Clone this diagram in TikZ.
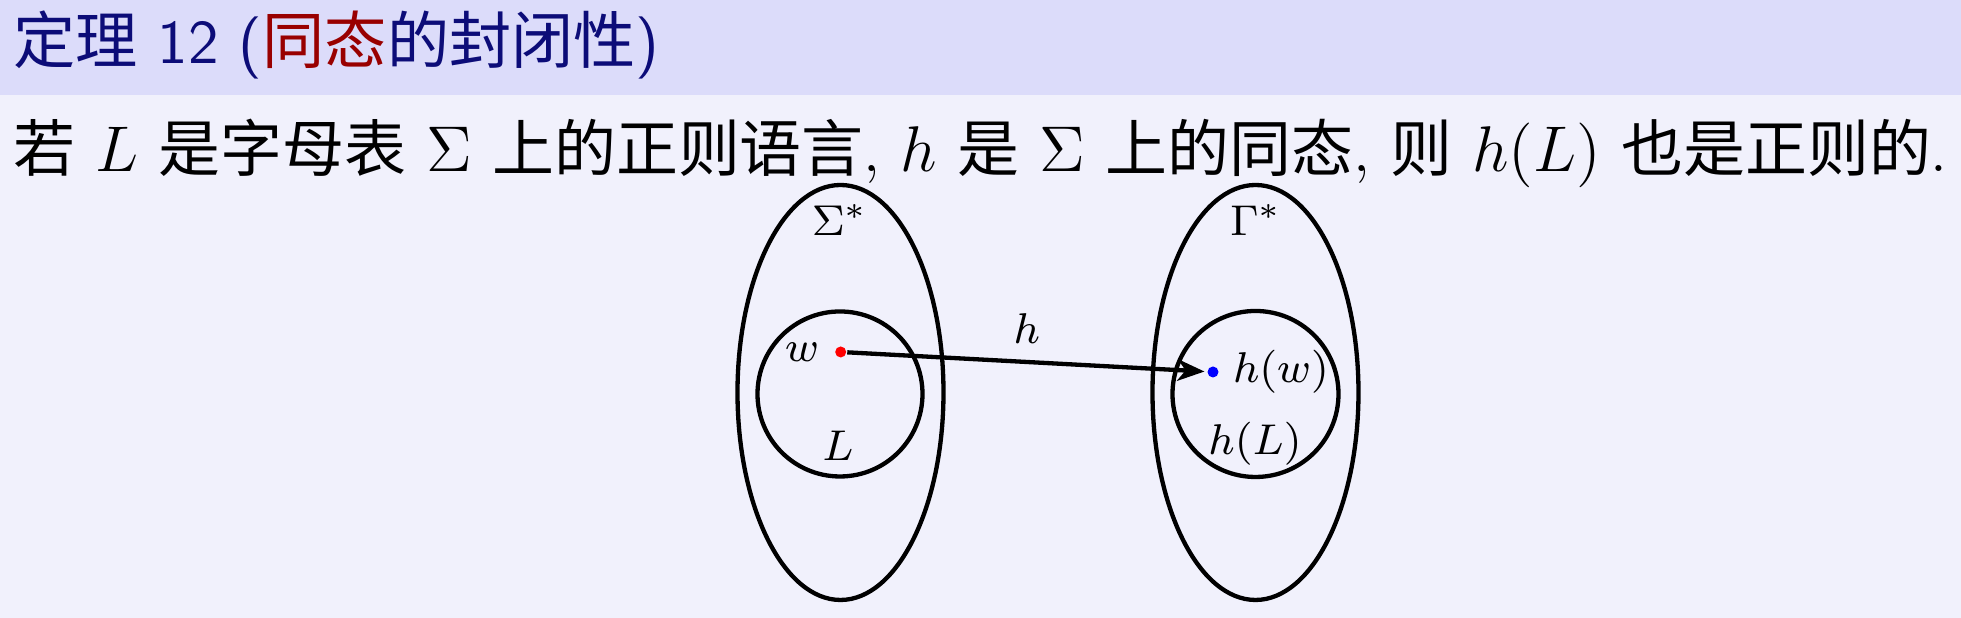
\documentclass[tikz,border=0pt]{standalone}
\usepackage{fontspec}
\newfontfamily\cjk{Noto Sans CJK SC}
\usetikzlibrary{arrows.meta,shapes.geometric}
\definecolor{hdrbg}{RGB}{220,220,250}
\definecolor{bodybg}{RGB}{241,241,252}
\definecolor{navy}{RGB}{12,12,120}
\definecolor{alertred}{RGB}{153,0,0}
\def\u{0.18569pt}
\begin{document}
\begin{tikzpicture}[x=0.18569pt,y=-0.18569pt,
  setline/.style={draw=black, line width=0.8pt, inner sep=0pt},
  lbl/.style={font=\fontsize{8}{10}\selectfont, inner sep=0pt},
  dot/.style={circle, inner sep=0pt, minimum size=11*\u}]
\fill[bodybg] (0,0) rectangle (1961,618);
\fill[hdrbg] (0,0) rectangle (1961,95);
\useasboundingbox (0,0) rectangle (1961,618);
\node[anchor=base west, inner sep=0pt, text=navy, font=\fontsize{11.55}{14}\selectfont] (title) at (12,64)
  {{\cjk 定理} \textsf{12 (}{\cjk\color{alertred}同态}{\cjk 的封闭性}\textsf{)}};
\node[anchor=base west, inner sep=0pt, font=\fontsize{11.5}{13}\selectfont] (body) at (12,172)
  {{\cjk 若} $L$ {\cjk 是字母表} $\Sigma$ {\cjk 上的正则语言}, $h$ {\cjk 是} $\Sigma$ {\cjk 上的同态}, {\cjk 则} $h(L)$ {\cjk 也是正则的}.};
% sets
\node[setline, ellipse, minimum width=206*\u, minimum height=415*\u] (Sstar) at (840.5,392.5) {};
\node[setline, circle, minimum size=165*\u] (Lset) at (840,394) {};
\node[setline, ellipse, minimum width=206*\u, minimum height=415*\u] (Gstar) at (1255.5,392.5) {};
\node[setline, circle, minimum size=166*\u] (hLset) at (1255.5,394) {};
% labels
\node[lbl] (Slbl) at (840,220) {$\Sigma^*$};
\node[lbl] (Glbl) at (1256,220) {$\Gamma^*$};
\node[lbl] (Llbl) at (838,446) {$L$};
\node[lbl] (hLlbl) at (1255,444) {$h(L)$};
\node[lbl] (wlbl) at (802,352) {$w$};
\node[lbl] (hwlbl) at (1281,372) {$h(w)$};
% points
\node[dot, fill=red] (w) at (840.7,352) {};
\node[dot, fill=blue] (hw) at (1213,372) {};
\draw[line width=0.8pt, -{Stealth[length=5pt,width=4pt,inset=1.5pt]}, shorten >=2*\u] (w) -- (hw)
  node[lbl, pos=0.5, above=16*\u] (hlbl) {$h$};
\end{tikzpicture}
\end{document}
